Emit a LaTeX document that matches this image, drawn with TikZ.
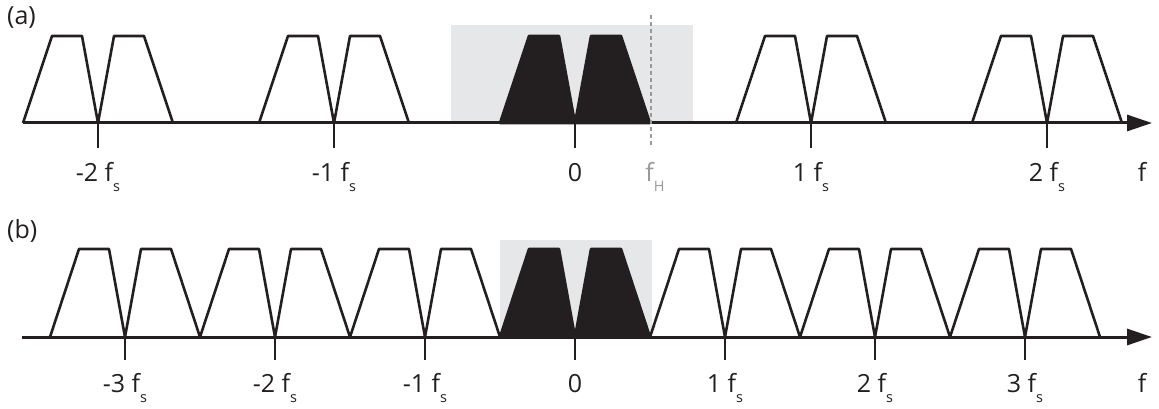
\documentclass[tikz,border=0pt]{standalone}
\usepackage{fontspec}
\setmainfont{Open Sans}
\usetikzlibrary{arrows.meta}
\definecolor{ink}{HTML}{231F20}
\definecolor{band}{HTML}{E6E7E8}
\definecolor{guide}{HTML}{999999}
\newcommand\subs[1]{\raisebox{-10pt}{\fontsize{14.5pt}{14.5pt}\selectfont #1}}
\begin{document}
\begin{tikzpicture}[x=1pt,y=-1pt,
  spec/.style={draw=ink,line width=2.6pt,line join=round},
  blk/.style={fill=ink,draw=ink,line width=2.6pt,line join=round},
  axisline/.style={draw=ink,line width=3pt,-{Triangle[length=25pt,width=16pt]}},
  tickline/.style={draw=ink,line width=2.5pt},
  guideline/.style={draw=guide,line width=2.6pt,dash pattern=on 4pt off 3pt},
  lab/.style={font=\fontsize{25pt}{25pt}\selectfont,text=ink,inner sep=0pt,anchor=base},
  panel/.style={font=\fontsize{25pt}{25pt}\selectfont,text=ink,inner sep=0pt,anchor=base west}]
\useasboundingbox (0,0) rectangle (1159,409);
% ---------- panel (a) ----------
\fill[band] (451,25) rectangle (693,123);
\filldraw[blk] (500,123) -- (529,36) -- (559,36) -- (575,123) -- cycle;
\filldraw[blk] (575,123) -- (591,36) -- (621,36) -- (650,123) -- cycle;
\coordinate (a0) at (23,123);
\coordinate (a1) at (1152,123);
\draw[axisline] (a0) -- (a1);
\foreach \c in {98,334,811,1047}
  \draw[spec] (\c-75,123) -- (\c-46,36) -- (\c-16,36) -- (\c,123) -- (\c+16,36) -- (\c+46,36) -- (\c+75,123);
\foreach \c in {98,334,575,811,1047}
  \draw[tickline] (\c,122) -- (\c,148);
\coordinate (h0) at (651,15);
\coordinate (h1) at (651,148);
\draw[guideline] (h0) -- (h1);
\node[panel] (pa) at (7,25) {(a)};
\node[lab] (am2) at (98,181) {-2 f\subs{s}};
\node[lab] (am1) at (334,181) {-1 f\subs{s}};
\node[lab] (a0l) at (575,181) {0};
\node[lab,text=guide] (afh) at (655,181) {f\subs{H}};
\node[lab] (ap1) at (811,181) {1 f\subs{s}};
\node[lab] (ap2) at (1047,181) {2 f\subs{s}};
\node[lab] (af) at (1142,181) {f};
% ---------- panel (b) ----------
\fill[band] (500,240) rectangle (652,337);
\filldraw[blk] (500,337) -- (529,249) -- (559,249) -- (575,337) -- cycle;
\filldraw[blk] (575,337) -- (591,249) -- (621,249) -- (650,337) -- cycle;
\coordinate (b0) at (22,337);
\coordinate (b1) at (1152,337);
\draw[axisline] (b0) -- (b1);
\foreach \c in {125,275,425,725,875,1025}
  \draw[spec] (\c-75,337) -- (\c-46,249) -- (\c-16,249) -- (\c,337) -- (\c+16,249) -- (\c+46,249) -- (\c+75,337);
\foreach \c in {125,275,425,575,725,875,1025}
  \draw[tickline] (\c,336) -- (\c,360);
\node[panel] (pb) at (7,238) {(b)};
\node[lab] (bm3) at (125,392) {-3 f\subs{s}};
\node[lab] (bm2) at (275,392) {-2 f\subs{s}};
\node[lab] (bm1) at (425,392) {-1 f\subs{s}};
\node[lab] (b0l) at (575,392) {0};
\node[lab] (bp1) at (725,392) {1 f\subs{s}};
\node[lab] (bp2) at (875,392) {2 f\subs{s}};
\node[lab] (bp3) at (1025,392) {3 f\subs{s}};
\node[lab] (bf) at (1142,392) {f};
\end{tikzpicture}
\end{document}
